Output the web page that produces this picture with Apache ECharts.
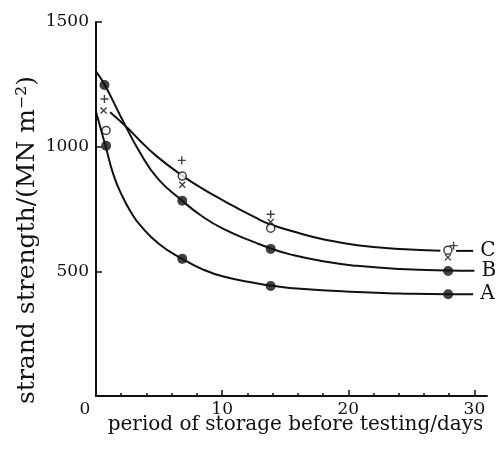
<!DOCTYPE html>
<html>
<head>
<meta charset="utf-8">
<script src="https://cdn.jsdelivr.net/npm/echarts@6/dist/echarts.min.js"></script>
<style>
html,body{margin:0;padding:0;background:#fff;}
#chart{width:496px;height:454px;}
</style>
</head>
<body>
<div id="chart"></div>
<script>
// ---- data ----
const xTickLabels = [0, 10, 20, 30];
const xMinorTicks = [2, 4, 6, 8, 12, 14, 16, 18, 22, 24, 26, 28];
const yTickLabels = [500, 1000, 1500];

// fitted curves (day, MN m^-2)
const curveA = [[0,1140],[0.75,1004],[1.4,885],[2.1,800],[2.8,735],[3.5,685],[5.0,610],[6.84,550],[8.5,507],[10.1,479],[12.7,452],[13.85,443],[16.2,430],[20.7,417],[24.1,411],[27.95,408],[29.9,408]];
const curveB = [[0,1302],[0.7,1247],[2.1,1107],[3.45,980],[4.9,872],[6.84,783],[8.3,725],[10.1,670],[12.7,614],[13.85,592],[15.4,568],[18.0,540],[20.7,522],[24.1,509],[27.95,503],[30.0,502]];
const curveC = [[1.12,1138],[2.52,1074],[3.45,1026],[4.8,962],[6.84,884],[8.3,836],[10.1,784],[12.7,714],[13.85,688],[16.2,652],[18.0,629],[20.7,605],[24.1,590],[27.3,583]];
const curveCTail = [[28.55,582],[29.9,582]];

// measured points
const filledA = [[0.8,1004],[6.84,550],[13.85,441],[27.92,408]];
const filledB = [[0.67,1247],[6.84,783],[13.85,590],[27.92,501]];
const openC   = [[0.8,1065],[6.84,882],[13.85,673],[27.9,585]];
const crossPts = [[0.6,1145],[6.84,847],[13.85,698],[27.9,556]];
const plusPts  = [[0.67,1191],[6.8,945],[13.85,729],[28.35,603]];

const ink = '#111';
const serif = 'DejaVu Serif';

const chart = echarts.init(document.getElementById('chart'), null, {renderer:'canvas'});

function curve(name, data, showLabel){
  return {
    type:'line', name:name, data:data, smooth:0.5, showSymbol:false, symbol:'none',
    lineStyle:{color:ink, width:2}, silent:true, z:2, clip:false,
    endLabel: showLabel ? {show:true, formatter:name, color:ink, fontFamily:serif, fontSize:20, distance:7} : {show:false}
  };
}

const option = {
  backgroundColor:'#fff',
  animation:false,
  grid:{left:96, right:9, top:22, bottom:58, containLabel:false},
  xAxis:[{
    type:'value', min:0, max:31,
    name:'period of storage before testing/days',
    nameLocation:'middle', nameGap:19, nameMoveOverlap:false,
    nameTextStyle:{color:ink, fontFamily:serif, fontSize:20, padding:[0,0,0,8], verticalAlign:'top'},
    axisLine:{show:true, onZero:false, lineStyle:{color:ink, width:2}},
    axisTick:{show:true, inside:true, length:6, customValues:[10,20,30], lineStyle:{color:ink, width:1.5}},
    axisLabel:{
      customValues:xTickLabels, color:ink, fontFamily:serif, fontSize:17, margin:5,
      formatter:function(v){ return v===0 ? '{z|0}' : String(v); },
      rich:{z:{color:ink, fontFamily:serif, fontSize:17, padding:[0,22,0,0]}}
    },
    splitLine:{show:false}
  },{
    type:'value', min:0, max:31, position:'bottom',
    axisLine:{show:false},
    axisTick:{show:true, inside:true, length:3, customValues:xMinorTicks, lineStyle:{color:ink, width:1.5}},
    axisLabel:{show:false},
    splitLine:{show:false}
  }],
  yAxis:{
    type:'value', min:0, max:1500, interval:500,
    name:'strand strength/(MN m\u207B\u00B2)',
    nameLocation:'middle', nameGap:56, nameMoveOverlap:false,
    nameTextStyle:{color:ink, fontFamily:serif, fontSize:25, padding:[0,62,0,0]},
    axisLine:{show:true, onZero:false, lineStyle:{color:ink, width:2}},
    axisTick:{show:true, inside:true, length:6, customValues:yTickLabels, lineStyle:{color:ink, width:1.5}},
    axisLabel:{customValues:yTickLabels, color:ink, fontFamily:serif, fontSize:17, margin:7,
      formatter:function(v){ return String(v); }},
    splitLine:{show:false}
  },
  series:[
    curve('A', curveA, true),
    curve('B', curveB, true),
    curve('C', curveC, false),
    curve('C', curveCTail, true),
    {type:'scatter', data:filledA, symbol:'circle', symbolSize:10, itemStyle:{color:ink}, z:5, silent:true},
    {type:'scatter', data:filledB, symbol:'circle', symbolSize:10, itemStyle:{color:ink}, z:5, silent:true},
    {type:'scatter', data:openC, symbol:'circle', symbolSize:8, itemStyle:{color:'#fff', borderColor:ink, borderWidth:1.5}, z:5, silent:true},
    {type:'scatter', data:crossPts, symbol:'path://M0,0L10,10M10,0L0,10', symbolSize:6, itemStyle:{color:'none', borderColor:ink, borderWidth:1.4}, z:5, silent:true},
    {type:'scatter', data:plusPts, symbol:'path://M5,0L5,10M0,5L10,5', symbolSize:8, itemStyle:{color:'none', borderColor:ink, borderWidth:1.4}, z:5, silent:true}
  ]
};
chart.setOption(option);
</script>
</body>
</html>
